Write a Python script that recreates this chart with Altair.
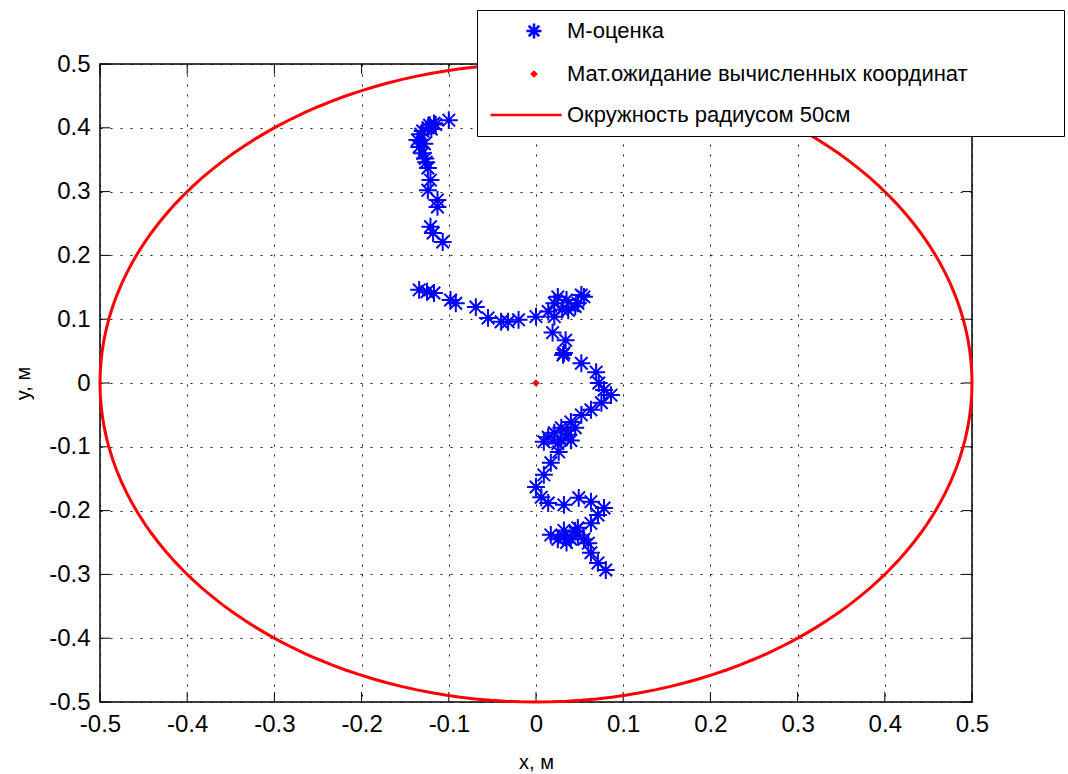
import altair as alt
import pandas as pd
import numpy as np

# ---- data ----
m_x = [-0.100, -0.117, -0.122, -0.124, -0.130, -0.132, -0.136, -0.134, -0.128, -0.130,
       -0.127, -0.126, -0.124, -0.121, -0.124, -0.113, -0.113, -0.121, -0.118, -0.107,
       -0.134, -0.125, -0.117, -0.098, -0.092, -0.069, -0.055, -0.040, -0.032, -0.020,
       0.000, 0.014, 0.021, 0.025, 0.035, 0.052, 0.048, 0.037, 0.021, 0.019,
       0.034, 0.032, 0.031, 0.052, 0.069, 0.072, 0.078, 0.086, 0.075, 0.063,
       0.052, 0.040, 0.029, 0.021, 0.014, 0.009, 0.029, 0.037, 0.026, 0.017,
       0.009, 0.000, 0.006, 0.014, 0.032, 0.049, 0.063, 0.078, 0.071, 0.063,
       0.048, 0.032, 0.017, 0.032, 0.048, 0.060, 0.063, 0.071, 0.080,
       0.035, 0.045, 0.025, 0.040, 0.025, 0.040, 0.045, 0.055, 0.035,
       0.045, 0.030, 0.055, -0.120, -0.115]
m_y = [0.412, 0.407, 0.404, 0.400, 0.395, 0.390, 0.381, 0.370, 0.375, 0.360,
       0.352, 0.346, 0.337, 0.318, 0.302, 0.287, 0.276, 0.245, 0.235, 0.221,
       0.146, 0.143, 0.141, 0.130, 0.125, 0.119, 0.102, 0.096, 0.096, 0.099,
       0.104, 0.112, 0.125, 0.135, 0.130, 0.138, 0.125, 0.114, 0.104, 0.079,
       0.067, 0.047, 0.044, 0.031, 0.017, 0.000, -0.011, -0.019, -0.031, -0.042,
       -0.050, -0.061, -0.070, -0.078, -0.085, -0.092, -0.089, -0.081, -0.108, -0.125,
       -0.144, -0.163, -0.179, -0.188, -0.191, -0.180, -0.186, -0.196, -0.207, -0.220,
       -0.227, -0.231, -0.238, -0.241, -0.238, -0.251, -0.266, -0.282, -0.293,
       -0.075, -0.070, -0.095, -0.090, -0.245, -0.245, -0.232, -0.245, -0.250,
       0.120, 0.115, 0.135, 0.398, 0.405]
mean_x = [0.0]
mean_y = [0.0]
circle_radius = 0.5
circle_angles_deg = list(range(0, 361, 2))

x_ticks = [-0.5, -0.4, -0.3, -0.2, -0.1, 0.0, 0.1, 0.2, 0.3, 0.4, 0.5]
y_ticks = [-0.5, -0.4, -0.3, -0.2, -0.1, 0.0, 0.1, 0.2, 0.3, 0.4, 0.5]

labels = ["М-оценка", "Мат.ожидание вычисленных координат", "Окружность радиусом 50см"]
colors = ["#0000ff", "#ff0000", "#ff0000"]

ASTER = "M-1,0L1,0M0,-1L0,1M-0.7,-0.7L0.7,0.7M-0.7,0.7L0.7,-0.7"
DIAM = "M0,-0.28L0.28,0L0,0.28L-0.28,0Z"
LINE = "M-5.8,0L3.7,0"

W, H = 872, 638
FONT = "Liberation Sans"

# ---- tables ----
df_m = pd.DataFrame({"x": m_x, "y": m_y, "series": labels[0]})
df_mean = pd.DataFrame({"x": mean_x, "y": mean_y, "series": labels[1]})
ang = np.radians(circle_angles_deg)
df_c = pd.DataFrame({"x": circle_radius * np.cos(ang), "y": circle_radius * np.sin(ang),
                     "i": range(len(circle_angles_deg)), "series": labels[2]})
df_xt = pd.DataFrame({"t": x_ticks})
df_yt = pd.DataFrame({"t": y_ticks})

xs = alt.Scale(domain=[-0.5, 0.5], nice=False, zero=False)
ys = alt.Scale(domain=[-0.5, 0.5], nice=False, zero=False)

xaxis = alt.Axis(values=x_ticks, labelExpr="toString(round(datum.value*10)/10)",
                 labelFlush=False, labelOverlap=False,
                 title="x, м", titleX=W / 2, titleY=60, titleBaseline="middle",
                 titleAlign="center")
yaxis = alt.Axis(values=y_ticks, labelExpr="toString(round(datum.value*10)/10)",
                 labelFlush=False, labelOverlap=False,
                 title="y, м", titleX=-77, titleY=H / 2, titleAngle=270,
                 titleBaseline="middle", titleAlign="center")

# trailing no-break spaces (kept by a zero-width char) widen the legend frame
pad = "\u00a0" * 14 + "\u200b"
legend = alt.Legend(title=None, orient="none", legendX=377, legendY=-54,
                    fillColor="white", strokeColor="black", padding=10,
                    symbolSize=225, symbolStrokeWidth=2.5, symbolOffset=36,
                    labelOffset=22, rowPadding=19, labelFontSize=22, labelFont=FONT,
                    labelColor="black", labelLimit=900,
                    labelExpr=f"length(datum.label) > 30 ? datum.label + '{pad}' : datum.label")

color = alt.Color("series:N", scale=alt.Scale(domain=labels, range=colors), legend=legend)
shape = alt.Shape("series:N", scale=alt.Scale(domain=labels, range=[ASTER, DIAM, LINE]),
                  legend=legend)

circle = alt.Chart(df_c).mark_line(strokeWidth=3, clip=False).encode(
    x=alt.X("x:Q", scale=xs, axis=xaxis),
    y=alt.Y("y:Q", scale=ys, axis=yaxis),
    order="i:Q",
    color=color,
)

stars = alt.Chart(df_m).mark_point(filled=False, size=320, strokeWidth=2, opacity=1).encode(
    x=alt.X("x:Q", scale=xs, axis=xaxis),
    y=alt.Y("y:Q", scale=ys, axis=yaxis),
    color=color,
    shape=shape,
)

mean = alt.Chart(df_mean).mark_point(filled=False, size=200, strokeWidth=2.5, opacity=1).encode(
    x=alt.X("x:Q", scale=xs, axis=xaxis),
    y=alt.Y("y:Q", scale=ys, axis=yaxis),
    color=color,
    shape=shape,
)

tick_len = 10
xt_bottom = alt.Chart(df_xt).mark_rule(color="black", strokeWidth=1).encode(
    x=alt.X("t:Q", scale=xs, axis=xaxis), y=alt.value(H), y2=alt.value(H - tick_len))
xt_top = alt.Chart(df_xt).mark_rule(color="black", strokeWidth=1).encode(
    x=alt.X("t:Q", scale=xs, axis=xaxis), y=alt.value(0), y2=alt.value(tick_len))
yt_left = alt.Chart(df_yt).mark_rule(color="black", strokeWidth=1).encode(
    y=alt.Y("t:Q", scale=ys, axis=yaxis), x=alt.value(0), x2=alt.value(tick_len))
yt_right = alt.Chart(df_yt).mark_rule(color="black", strokeWidth=1).encode(
    y=alt.Y("t:Q", scale=ys, axis=yaxis), x=alt.value(W), x2=alt.value(W - tick_len))

chart = alt.layer(xt_bottom, xt_top, yt_left, yt_right, circle, stars, mean).properties(
    width=W, height=H,
    autosize=alt.AutoSizeParams(type="none"),
    padding={"left": 100, "top": 64, "right": 96, "bottom": 72},
    background="white",
).configure_view(
    stroke="black", strokeWidth=1.5
).configure_axis(
    ticks=False, domain=False, labelPadding=10, grid=True, gridColor="black",
    gridDash=[2, 8], gridWidth=1, gridOpacity=0.9,
    labelFont=FONT, labelFontSize=24, labelColor="black",
    titleFont=FONT, titleFontSize=20, titleFontWeight="normal", titleColor="black",
)

chart.save("out.html", embed_options={"renderer": "svg", "actions": False})
